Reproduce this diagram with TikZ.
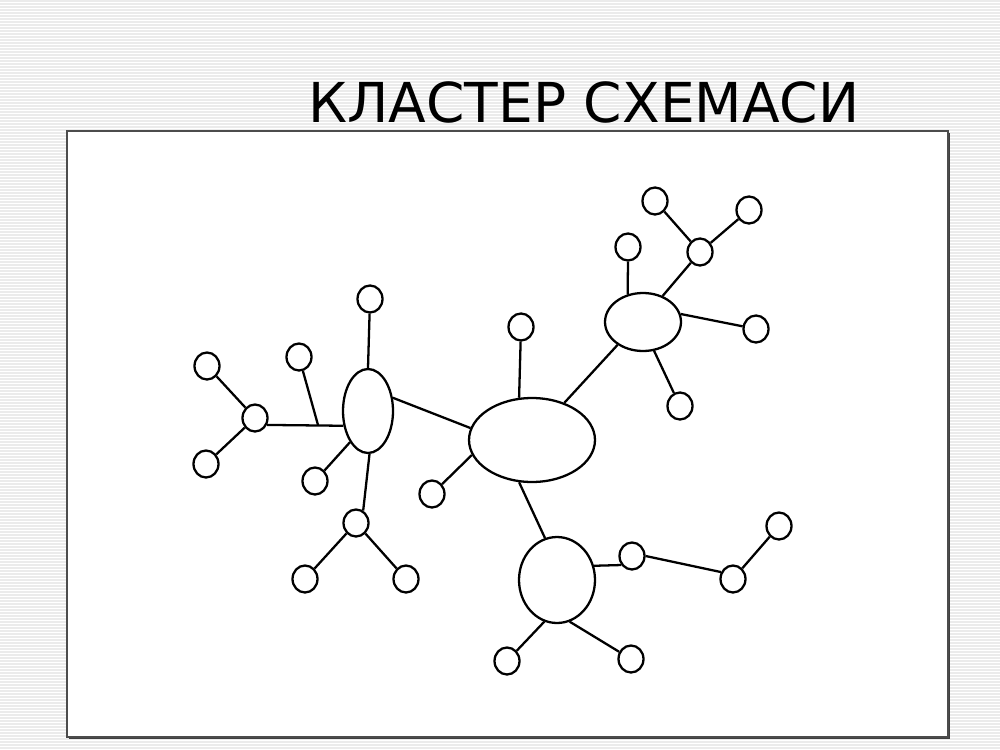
\documentclass[tikz,border=0pt]{standalone}
\usepackage{fontspec}
\usepackage{tikz}
\usetikzlibrary{shapes.geometric}
\newfontfamily\titlefont{DejaVu Sans}
\tikzset{
bubble/.style={ellipse, draw, line width=1.3pt, fill=white, inner sep=0pt,
  minimum width=0.5cm, minimum height=0.54cm}, % the small circles
hub/.style args={#1 and #2}{ellipse, draw, line width=1.3pt, fill=white,
  inner sep=0pt, minimum width=#1, minimum height=#2}, % the big ovals
stripe/.style={gray!16, line width=0.025cm}, % background lines
}

\begin{document}
\begin{tikzpicture}[x=0.02cm, y=-0.02cm]
   \useasboundingbox (0,0) rectangle (1000,750);
   \fill[white] (0,0) rectangle (1000,750);
   \foreach \y in {1,4,...,750}
      \draw[stripe] (0,\y) -- (1000,\y);
   % frame
   \fill[black!75] (69,133) rectangle (949.5,738.5);
   \draw[fill=white, draw=black!70, line width=0.6pt] (67,131) rectangle (948,737);
   \node[font=\titlefont\fontsize{31.3}{36}\selectfont, anchor=base] (title) at (584,122) {КЛАСТЕР СХЕМАСИ};

   % hubs
   \node[hub=2.52cm and 1.68cm] (m) at (532,440) {};
   \node[hub=1cm and 1.68cm] (L) at (368,411) {};
   \node[hub=1.52cm and 1.16cm] (R) at (643,322) {};
   \node[hub=1.52cm and 1.72cm] (B) at (557,580) {};

   % around m
   \node[bubble] (mt) at (521,327) {};
   \node[bubble] (ml) at (432,494) {};
   % around L
   \node[bubble] (lt) at (370,299) {};
   \node[bubble] (lu) at (299,357) {};
   \node[bubble] (ll) at (255,418) {};
   \node[bubble] (lla) at (207,366) {};
   \node[bubble] (llb) at (206,464) {};
   \node[bubble] (lc) at (315,481) {};
   \node[bubble] (ld) at (356,523) {};
   \node[bubble] (lda) at (305,579) {};
   \node[bubble] (ldb) at (406,579) {};
   % around R
   \node[bubble] (rt) at (628,247) {};
   \node[bubble] (ru) at (700,252) {};
   \node[bubble] (rua) at (655,201) {};
   \node[bubble] (rub) at (749,210) {};
   \node[bubble] (rr) at (756,329) {};
   \node[bubble] (rd) at (680,406) {};
   % around B
   \node[bubble] (ba) at (632,556) {};
   \node[bubble] (bb) at (733,579) {};
   \node[bubble] (bc) at (779,526) {};
   \node[bubble] (bd) at (507,661) {};
   \node[bubble] (be) at (631,659) {};

   \coordinate (j) at (318,425);

    \path[line width=1.3pt]
    (m.107) edge (mt)
    (m.194) edge (ml)
    (m.169) edge (L.28)
    (m.49)  edge (R.222)
    (m.253) edge (B.106)
    (L.90)  edge (lt)
    (L.211) edge (ll.-30)
    (j)     edge (lu)
    (ll)    edge (lla)
    (ll)    edge (llb)
    (L.240) edge (lc)
    (L.272) edge (ld.60)
    (ld)    edge (lda)
    (ld)    edge (ldb)
    (R.119) edge (rt.south)
    (R.53)  edge (ru)
    (ru)    edge (rua)
    (ru)    edge (rub)
    (R.12)  edge (rr)
    (R.291) edge (rd)
    (B.21)  edge (ba.220)
    (ba.east) edge (bb.150)
    (bb)    edge (bc)
    (B.253) edge (bd)
    (B.287) edge (be);
\end{tikzpicture}
\end{document}
